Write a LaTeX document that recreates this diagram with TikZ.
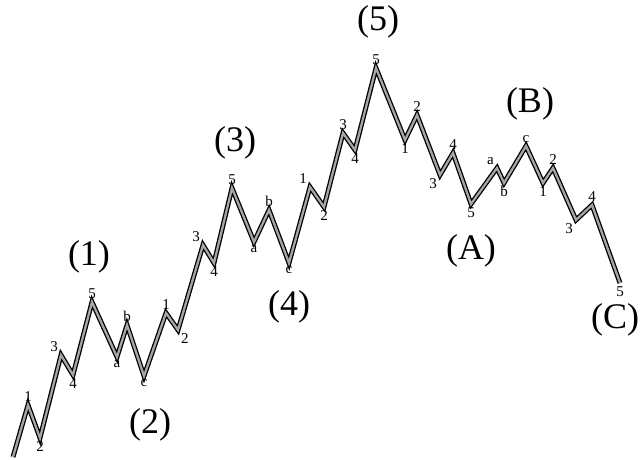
\documentclass[tikz,border=0pt]{standalone}
\usepackage{fontspec}
\setmainfont{Liberation Serif}
\begin{document}
\begin{tikzpicture}[x=1pt, y=-1pt,
	lbl/.style={font=\fontsize{15}{15}\selectfont, inner sep=3pt},
	fala/.style={line width=1.3pt, double=gray!70, double distance=2.3pt, line join=miter},
	duzy/.style={font=\fontsize{36}{36}\selectfont, inner sep=0pt}]
\useasboundingbox (0,0) rectangle (640,460);
\clip (0,0) rectangle (640,460);
% punkty zwrotne
\foreach \i/\x/\y in {0/13/457, 1/28/405, 2/40/438, 3/61/355, 4/73/375, 5/92/302, 6/117/357,
	7/127/325, 8/144/376, 9/166/313, 10/178/330, 11/203/245, 12/214/263, 13/232/188,
	14/254/242, 15/269/210, 16/289/263, 17/310/187, 18/324/207, 19/343/133, 20/355/150,
	21/376/68, 22/405/140, 23/417/115, 24/440/175, 25/453/153, 26/471/204, 27/497/168,
	28/504/183, 29/526/146, 30/543/183, 31/553/168, 32/576/220, 33/592/205, 34/620/283}
	\coordinate (p\i) at (\x,\y);
\draw[fala] (p0) \foreach \i in {1,...,34} { -- (p\i) };
% male etykiety
\foreach \i/\t/\pos in {1/1/above, 2/2/below, 3/3/above left, 4/4/below, 5/5/above, 6/a/below,
	7/b/above, 8/c/below, 9/1/above, 10/2/below right, 11/3/above left, 12/4/below, 13/5/above,
	14/a/below, 15/b/above, 16/c/below, 17/1/above left, 18/2/below, 19/3/above, 20/4/below,
	21/5/above, 22/1/below, 23/2/above, 24/3/below left, 25/4/above, 26/5/below, 27/a/above left,
	28/b/below, 29/c/above, 30/1/below, 31/2/above, 32/3/below left, 33/4/above, 34/5/below}
	\node[lbl,\pos] (l\i) at (p\i) {\t};
% duze etykiety
\foreach \n/\x/\y/\t in {f1/89/257/(1), f2/150/425/(2), f3/235/143/(3), f4/289/307/(4),
	f5/378/22/(5), fA/471/251/(A), fB/530/104/(B), fC/615/320/(C)}
	\node[duzy] (\n) at (\x,\y) {\t};
\end{tikzpicture}
\end{document}
